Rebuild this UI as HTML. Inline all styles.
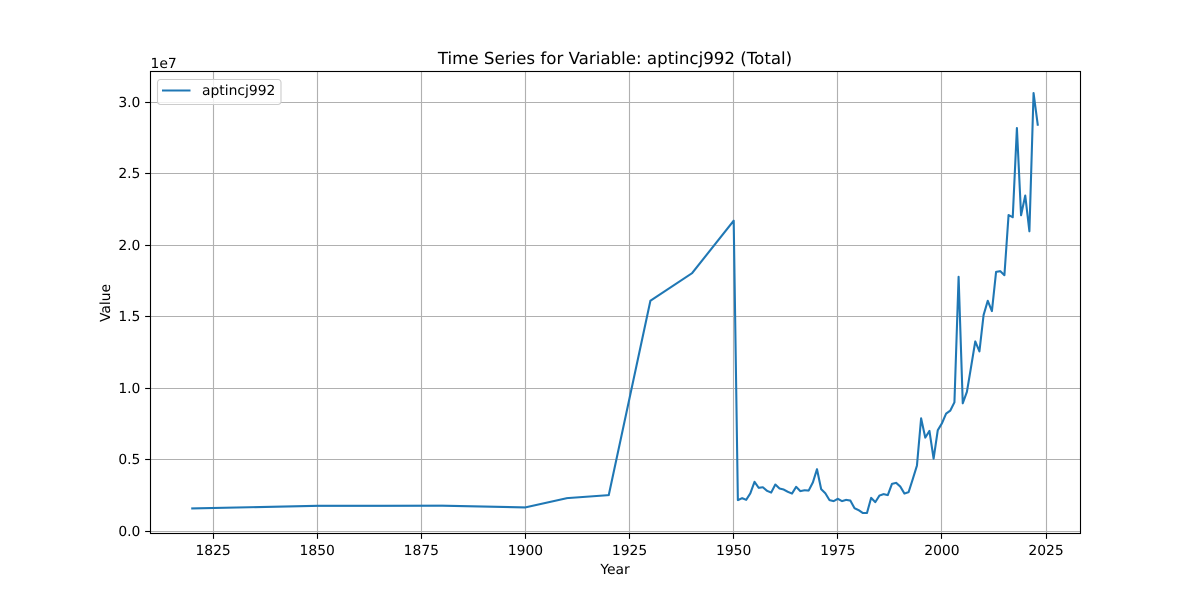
<!DOCTYPE html>
<html lang="en">
<head>
<meta charset="utf-8">
<title>Time Series for Variable: aptincj992 (Total)</title>
<style>
html,body{margin:0;padding:0;background:#fff;}
#chart{display:block;width:1200px;height:600px;}
text{font-family:"DejaVu Sans","Liberation Sans",sans-serif;fill:#000;text-rendering:geometricPrecision;}
</style>
</head>
<body>
<svg id="chart" xmlns="http://www.w3.org/2000/svg" width="1200" height="600" viewBox="0 0 1200 600">
  <rect x="0" y="0" width="1200" height="600" fill="#ffffff"/>
  <rect x="150" y="72" width="930" height="462" fill="#ffffff"/>
  <g id="grid"></g>
  <path id="series" fill="none" stroke="#1f77b4" stroke-width="2.08" stroke-linejoin="round" stroke-linecap="square"/>
  <rect x="150.5" y="71.5" width="930" height="462" fill="none" stroke="#000" stroke-width="1.11"/>
  <g id="ticks"></g>
  <text x="150.5" y="68" font-size="13.89">1e7</text>
  <text x="615" y="64" font-size="16.67" text-anchor="middle">Time Series for Variable: aptincj992 (Total)</text>
  <text x="615" y="574" font-size="13.89" text-anchor="middle">Year</text>
  <text x="0" y="0" font-size="13.89" text-anchor="middle" transform="translate(110 303) rotate(-90)">Value</text>
  <g>
    <rect x="157.5" y="79.5" width="123.5" height="25" rx="3" ry="3" fill="#ffffff" fill-opacity="0.8" stroke="#cccccc" stroke-width="1.11"/>
    <line x1="162" y1="90.5" x2="190.5" y2="90.5" stroke="#1f77b4" stroke-width="2.08"/>
    <text x="202" y="95" font-size="13.89">aptincj992</text>
  </g>
</svg>
<script>
const years = [1820,1850,1880,1900,1910,1920,1930,1940,1950,
  1951,1952,1953,1954,1955,1956,1957,1958,1959,1960,
  1961,1962,1963,1964,1965,1966,1967,1968,1969,1970,
  1971,1972,1973,1974,1975,1976,1977,1978,1979,1980,
  1981,1982,1983,1984,1985,1986,1987,1988,1989,1990,
  1991,1992,1993,1994,1995,1996,1997,1998,1999,2000,
  2001,2002,2003,2004,2005,2006,2007,2008,2009,2010,
  2011,2012,2013,2014,2015,2016,2017,2018,2019,2020,
  2021,2022,2023];
const values = [1600000,1780000,1790000,1670000,2320000,2530000,16120000,18050000,21720000,
  2180000,2320000,2200000,2660000,3460000,3040000,3080000,2830000,2710000,3270000,
  2990000,2920000,2760000,2640000,3110000,2810000,2870000,2850000,3410000,4340000,
  2950000,2660000,2180000,2110000,2270000,2110000,2200000,2150000,1620000,1480000,
  1280000,1280000,2340000,2040000,2500000,2600000,2530000,3320000,3390000,3130000,
  2640000,2740000,3650000,4600000,7900000,6550000,7020000,5080000,7070000,7550000,
  8230000,8440000,9020000,17800000,8950000,9760000,11500000,13280000,12580000,15120000,
  16120000,15400000,18140000,18190000,17910000,22120000,21960000,28200000,22100000,23480000,
  20980000,30650000,28430000];
const xTicks = [1825,1850,1875,1900,1925,1950,1975,2000,2025];
const yTicks = [0,5000000,10000000,15000000,20000000,25000000,30000000];
const yTickLabels = ["0.0","0.5","1.0","1.5","2.0","2.5","3.0"];

const NS = "http://www.w3.org/2000/svg";
const plotLeft = 150, plotRight = 1080, plotTop = 72, plotBottom = 534;
const marginFrac = 0.05;
const xMin = Math.min(...years), xMax = Math.max(...years);
const yMin = Math.min(...values), yMax = Math.max(...values);
const xPad = (xMax - xMin) * marginFrac, yPad = (yMax - yMin) * marginFrac;
function xScale(v) {
  return plotLeft + (v - (xMin - xPad)) / ((xMax + xPad) - (xMin - xPad)) * (plotRight - plotLeft);
}
function yScale(v) {
  return plotBottom - (v - (yMin - yPad)) / ((yMax + yPad) - (yMin - yPad)) * (plotBottom - plotTop);
}
function snap(p) {
  return Math.floor(p) + 0.5;
}
function mk(tag, attrs, parent) {
  const el = document.createElementNS(NS, tag);
  for (const k in attrs) el.setAttribute(k, attrs[k]);
  parent.appendChild(el);
  return el;
}
const gridG = document.getElementById("grid");
const ticksG = document.getElementById("ticks");

xTicks.forEach(function (t) {
  const x = snap(xScale(t));
  const g = mk("line", {x1: x, x2: x, y1: plotTop, y2: plotBottom, stroke: "#b0b0b0", "stroke-width": 1.11}, gridG);
  
  
  const m = mk("line", {x1: x, x2: x, y1: plotBottom, y2: plotBottom + 4.86, stroke: "#000", "stroke-width": 1.11}, ticksG);
  
  
  const l = mk("text", {x: xScale(t), y: plotBottom + 21, "font-size": 13.89, "text-anchor": "middle"}, ticksG);
  
  
  l.textContent = String(t);
});

yTicks.forEach(function (t, i) {
  const y = snap(yScale(t));
  const g = mk("line", {x1: plotLeft, x2: plotRight, y1: y, y2: y, stroke: "#b0b0b0", "stroke-width": 1.11}, gridG);
  
  
  const m = mk("line", {x1: plotLeft - 4.86, x2: plotLeft, y1: y, y2: y, stroke: "#000", "stroke-width": 1.11}, ticksG);
  
  
  const l = mk("text", {x: plotLeft - 9.6, y: y + 4.5, "font-size": 13.89, "text-anchor": "end"}, ticksG);
  
  
  l.textContent = yTickLabels[i];
});

document.getElementById("series").setAttribute("d", years.map(function (yr, i) {
  return (i ? "L" : "M") + xScale(yr).toFixed(2) + " " + yScale(values[i]).toFixed(2);
}).join(" "));
</script>
</body>
</html>
